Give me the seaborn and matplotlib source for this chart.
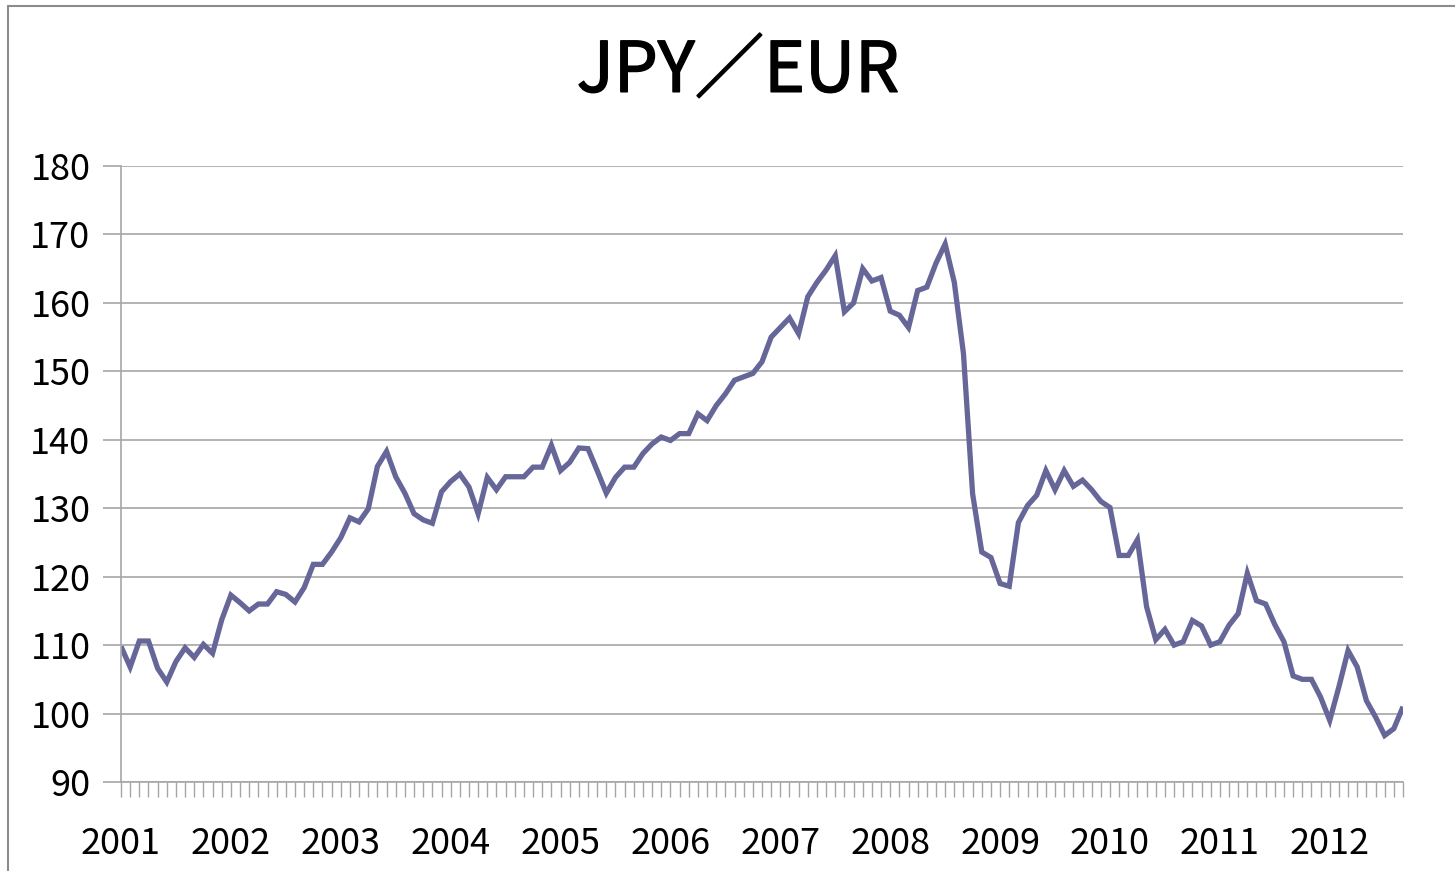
import matplotlib
matplotlib.use("Agg")
import matplotlib.pyplot as plt
import matplotlib.lines as mlines
import matplotlib.patheffects as pe
import seaborn as sns
import numpy as np
import pandas as pd
from matplotlib.ticker import FixedLocator, FixedFormatter

# monthly JPY/EUR, Jan 2001 .. Sep 2012
values_2001_2003 = [109.8, 106.8, 110.6, 110.6, 106.6, 104.6, 107.6, 109.6, 108.2, 110.1, 108.8, 113.7,
                    117.3, 116.2, 115.0, 116.0, 116.0, 117.8, 117.4, 116.3, 118.4, 121.8, 121.8, 123.6,
                    125.7, 128.6, 128.0, 129.9, 136.1, 138.3, 134.6, 132.2, 129.2, 128.3, 127.8, 132.4]
values_2004_2006 = [133.9, 135.0, 133.1, 129.2, 134.5, 132.7, 134.6, 134.6, 134.6, 136.0, 136.0, 139.2,
                    135.5, 136.7, 138.8, 138.7, 135.5, 132.2, 134.5, 136.0, 136.0, 138.0, 139.4, 140.4,
                    139.9, 140.9, 140.9, 143.8, 142.8, 145.0, 146.7, 148.7, 149.2, 149.7, 151.4, 155.0]
values_2007_2009 = [156.4, 157.8, 155.5, 160.9, 163.0, 164.8, 166.9, 158.7, 160.0, 165.0, 163.2, 163.7,
                    158.8, 158.2, 156.4, 161.8, 162.3, 165.8, 168.6, 163.0, 152.6, 132.1, 123.6, 122.8,
                    119.0, 118.6, 127.9, 130.4, 131.9, 135.5, 132.7, 135.5, 133.2, 134.1, 132.7, 131.0]
values_2010_2012 = [130.1, 123.1, 123.1, 125.4, 115.6, 110.8, 112.3, 110.0, 110.5, 113.6, 112.8, 110.0,
                    110.5, 112.9, 114.6, 120.5, 116.5, 116.0, 113.0, 110.5, 105.5, 105.0, 105.0, 102.4,
                    99.0, 103.9, 109.2, 106.8, 101.9, 99.5, 96.8, 97.8, 101.0]
year_labels = ["2001", "2002", "2003", "2004", "2005", "2006", "2007", "2008", "2009", "2010", "2011", "2012"]
y_ticks = [90, 100, 110, 120, 130, 140, 150, 160, 170, 180]
title_text = "JPY／EUR"

values = values_2001_2003 + values_2004_2006 + values_2007_2009 + values_2010_2012
df = pd.DataFrame({"month": np.arange(len(values)), "rate": values})

sns.set_theme(style="white")
plt.rcParams['font.family'] = ['Noto Sans CJK JP', 'DejaVu Sans']

fig = plt.figure(figsize=(14.55, 8.71), dpi=100)
ax = fig.add_axes([121/1455, 1 - 782/871, (1403-121)/1455, (782-166)/871])

sns.lineplot(data=df, x="month", y="rate", ax=ax, color="#666699", linewidth=3.8,
             solid_joinstyle="miter", solid_capstyle="butt")

n = len(values)
ax.set_xlim(0, n - 1)
ax.set_ylim(90, 180)
ax.set_xlabel("")
ax.set_ylabel("")

grid_c = "#a6a6a6"
ax.yaxis.set_major_locator(FixedLocator(y_ticks))
ax.yaxis.set_major_formatter(FixedFormatter([str(t) for t in y_ticks]))
ax.grid(axis="y", color=grid_c, linewidth=1.2)
ax.set_axisbelow(True)

xt = list(range(n))
xl = [year_labels[i // 12] if i % 12 == 0 else "" for i in xt]
ax.xaxis.set_major_locator(FixedLocator(xt))
ax.xaxis.set_major_formatter(FixedFormatter(xl))

ax.tick_params(axis="x", which="major", direction="out", length=11, width=1.0, color=grid_c,
               labelsize=26, pad=21, bottom=True, labelcolor="black")
ax.tick_params(axis="y", which="major", direction="out", length=13, width=1.2, color=grid_c,
               labelsize=26, pad=9, left=True, labelcolor="black")

for s in ["top", "right"]:
    ax.spines[s].set_visible(False)
for s in ["left", "bottom"]:
    ax.spines[s].set_color(grid_c)
    ax.spines[s].set_linewidth(1.2)

fig.text(738/1455, 1 - 72/871, title_text, ha="center", va="center", fontsize=50,
         color="black", path_effects=[pe.withStroke(linewidth=1.1, foreground="black")])

# chart area border (top and left)
fig.add_artist(mlines.Line2D([8/1455, 1], [1 - 6.5/871, 1 - 6.5/871], transform=fig.transFigure,
                             color="#8c8c8c", linewidth=1.5))
fig.add_artist(mlines.Line2D([8/1455, 8/1455], [0, 1 - 6.5/871], transform=fig.transFigure,
                             color="#8c8c8c", linewidth=1.5))

fig.savefig("out.png", dpi=100, facecolor="white")
